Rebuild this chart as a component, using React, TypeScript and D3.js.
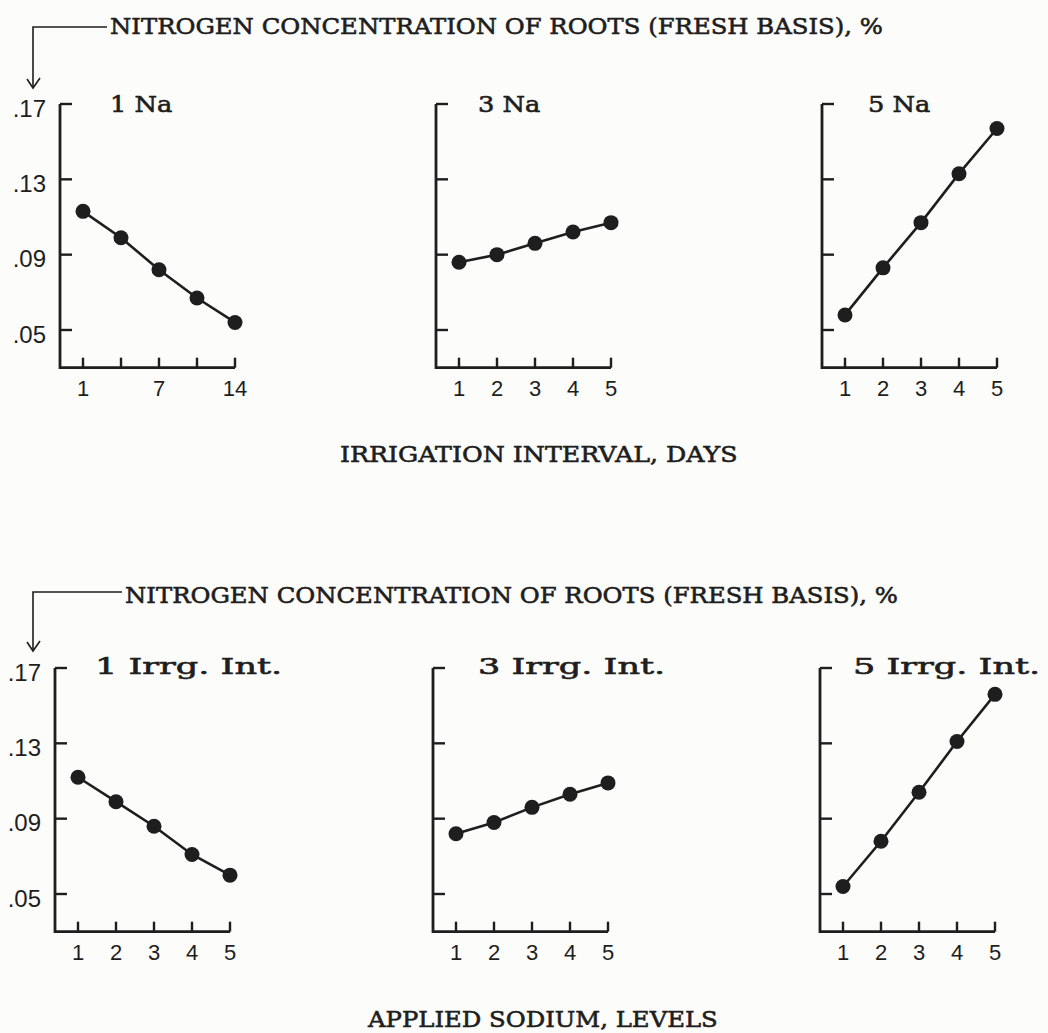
import React from 'react';
import * as d3 from 'd3';

// ---- data ----
const levels = [1, 2, 3, 4, 5];
const intervalTickLabels = ['1', '', '7', '', '14'];
const levelTickLabels = ['1', '2', '3', '4', '5'];
const yTickValues = [0.05, 0.09, 0.13, 0.17];
const yTickLabels = ['.05', '.09', '.13', '.17'];

const na1 = [0.113, 0.099, 0.082, 0.067, 0.054];
const na3 = [0.086, 0.090, 0.096, 0.102, 0.107];
const na5 = [0.058, 0.083, 0.107, 0.133, 0.157];
const irr1 = [0.112, 0.099, 0.086, 0.071, 0.060];
const irr3 = [0.082, 0.088, 0.096, 0.103, 0.109];
const irr5 = [0.054, 0.078, 0.104, 0.131, 0.156];

const topTitles = ['1 Na', '3 Na', '5 Na'];
const bottomTitles = ['1 Irrg. Int.', '3 Irrg. Int.', '5 Irrg. Int.'];
const headerText = 'NITROGEN CONCENTRATION OF ROOTS (FRESH BASIS), %';
const topXTitle = 'IRRIGATION INTERVAL, DAYS';
const bottomXTitle = 'APPLIED SODIUM, LEVELS';

// ---- layout ----
const W = 1048;
const H = 1033;
const INK = '#1e1e1e';
const TYPE = '"DejaVu Serif", "Liberation Serif", serif';
const SANS = '"Liberation Sans", Arial, sans-serif';
const PITCH = 16.1;

const rows = [
  {
    series: [na1, na3, na5],
    titles: topTitles,
    xLabels: [intervalTickLabels, levelTickLabels, levelTickLabels],
    lefts: [60, 436, 822],
    titleX: [110, 478, 868],
    titleY: 112,
    top: 104,
    xLabelY: 396,
    headerLineY: 27,
    headerTextX: 110,
    headerBaseline: 34,
    arrowTip: 88,
    xTitle: topXTitle,
    xTitleX: 340,
    xTitleY: 462,
  },
  {
    series: [irr1, irr3, irr5],
    titles: bottomTitles,
    xLabels: [levelTickLabels, levelTickLabels, levelTickLabels],
    lefts: [55, 433, 820],
    titleX: [95, 478, 853],
    titleY: 674,
    top: 668,
    xLabelY: 960,
    headerLineY: 592,
    headerTextX: 125,
    headerBaseline: 603,
    arrowTip: 651,
    xTitle: bottomXTitle,
    xTitleX: 368,
    xTitleY: 1027,
  },
];

function Panel({ row, i }: { row: any; i: number }) {
  const left = row.lefts[i];
  const y = d3.scaleLinear().domain([0.17, 0.05]).range([row.top, row.top + 226]);
  const yBottom = y(0.03);
  const x = d3.scaleLinear().domain([1, 5]).range([left + 23, left + 175]);
  const values: number[] = row.series[i];
  const line = d3
    .line<number>()
    .x((_, k) => x(levels[k]))
    .y((v) => y(v));
  const title: string = row.titles[i];
  return (
    <g>
      <path
        d={`M${left},${y(0.17)}V${yBottom}H${x(5)}`}
        fill="none"
        stroke={INK}
        strokeWidth={2.8}
      />
      {yTickValues.map((t) => (
        <line key={t} x1={left} x2={left + 12} y1={y(t)} y2={y(t)} stroke={INK} strokeWidth={2.4} />
      ))}
      {levels.map((l) => (
        <line key={l} x1={x(l)} x2={x(l)} y1={yBottom} y2={yBottom - 10} stroke={INK} strokeWidth={2.4} />
      ))}
      {i === 0 &&
        yTickValues.map((t, k) => (
          <text
            key={t}
            x={left - 14}
            y={y(t) + 4}
            textAnchor="end"
            dominantBaseline="central"
            fontFamily={SANS}
            fontSize={24}
            fill={INK}
          >
            {yTickLabels[k]}
          </text>
        ))}
      {levels.map((l, k) => (
        <text
          key={l}
          x={x(l)}
          y={row.xLabelY}
          textAnchor="middle"
          fontFamily={SANS}
          fontSize={22}
          fill={INK}
        >
          {row.xLabels[i][k]}
        </text>
      ))}
      <path d={line(values) || ''} fill="none" stroke={INK} strokeWidth={2.6} />
      {values.map((v, k) => (
        <circle key={k} cx={x(levels[k])} cy={y(v)} r={7.5} fill={INK} />
      ))}
      <text
        x={row.titleX[i]}
        y={row.titleY}
        fontFamily={TYPE}
        fontSize={23}
        fill={INK}
        stroke={INK}
        strokeWidth={0.6}
        textLength={title.length * 15.6}
        lengthAdjust="spacingAndGlyphs"
      >
        {title}
      </text>
    </g>
  );
}

export default function App() {
  return (
    <svg
      width={W}
      height={H}
      viewBox={`0 0 ${W} ${H}`}
      style={{ position: 'absolute', left: 0, top: 0, background: '#fcfcfa' }}
    >
      <rect x={0} y={0} width={W} height={H} fill="#fcfcfa" />
      {rows.map((row, r) => (
        <g key={r}>
          <path
            d={`M${row.headerTextX - 3},${row.headerLineY}H33V${row.arrowTip}`}
            fill="none"
            stroke={INK}
            strokeWidth={1.6}
          />
          <path
            d={`M27,${row.arrowTip - 9}L33,${row.arrowTip}L40,${row.arrowTip - 10}`}
            fill="none"
            stroke={INK}
            strokeWidth={1.6}
          />
          <text
            x={row.headerTextX}
            y={row.headerBaseline}
            fontFamily={TYPE}
            fontSize={23}
            fill={INK}
            stroke={INK}
            strokeWidth={0.6}
            textLength={headerText.length * PITCH}
            lengthAdjust="spacingAndGlyphs"
          >
            {headerText}
          </text>
          {[0, 1, 2].map((i) => (
            <Panel key={i} row={row} i={i} />
          ))}
          <text
            x={row.xTitleX}
            y={row.xTitleY}
            fontFamily={TYPE}
            fontSize={23}
            fill={INK}
            stroke={INK}
            strokeWidth={0.6}
            textLength={row.xTitle.length * 15.9}
            lengthAdjust="spacingAndGlyphs"
          >
            {row.xTitle}
          </text>
        </g>
      ))}
    </svg>
  );
}
